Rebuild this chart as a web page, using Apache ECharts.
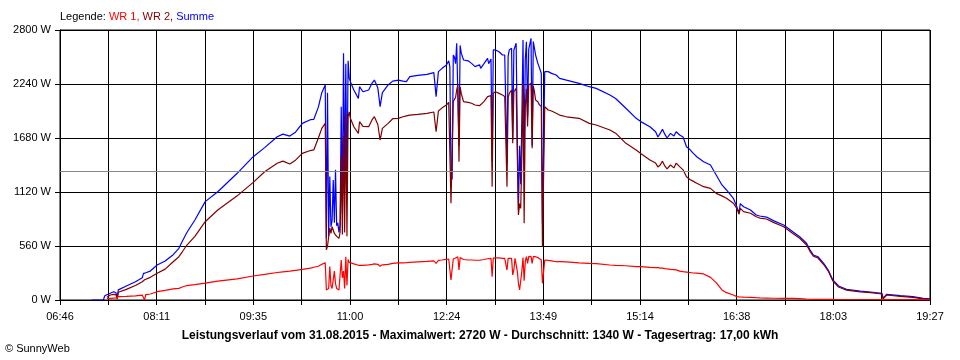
<!DOCTYPE html>
<html><head><meta charset="utf-8">
<script src="https://cdn.jsdelivr.net/npm/echarts@6/dist/echarts.min.js"></script>
<style>html,body{margin:0;padding:0;background:#fff}#c{width:960px;height:360px}</style>
</head><body><div id="c"></div>
<script>
const tickLabels = ['06:46','08:11','09:35','11:00','12:24','13:49','15:14','16:38','18:03','19:27'];
const axisStart = '06:46', axisEnd = '19:27';
const yTicks = [0, 560, 1120, 1680, 2240, 2800];
const average = 1340;

const times = [
'07:14','07:24','07:25','07:27','07:28','07:30','07:33','07:34','07:35','07:36',
'07:37','07:38','07:44','07:52','07:58','07:59','08:00','08:01','08:05','08:11',
'08:18','08:25','08:30','08:33','08:37','08:44','08:53','09:04','09:21','09:35',
'09:45','09:56','10:01','10:07','10:12','10:18','10:25','10:28','10:32','10:35',
'10:38','10:39','10:40','10:41','10:42','10:43','10:44','10:45','10:46','10:47',
'10:48','10:49','10:50','10:51','10:52','10:53','10:54','10:55','10:56','10:57',
'10:58','10:59','11:00','11:03','11:07','11:08','11:11','11:16','11:19','11:21',
'11:24','11:26','11:28','11:33','11:37','11:42','11:46','11:49','11:52','11:59',
'12:07','12:13','12:14','12:15','12:17','12:20','12:24','12:26','12:27','12:28',
'12:29','12:30','12:31','12:32','12:33','12:34','12:35','12:36','12:37','12:39',
'12:40','12:43','12:46','12:49','12:53','12:54','12:57','13:00','13:01','13:03',
'13:04','13:05','13:07','13:10','13:13','13:15','13:16','13:17','13:18','13:19',
'13:21','13:22','13:23','13:24','13:25','13:26','13:27','13:28','13:29','13:30',
'13:31','13:32','13:33','13:34','13:35','13:36','13:37','13:38','13:39','13:40',
'13:41','13:42','13:44','13:45','13:47','13:48','13:50','13:53','13:56','14:00',
'14:03','14:09','14:20','14:29','14:35','14:47','14:52','15:01','15:10','15:14',
'15:22','15:27','15:29','15:31','15:33','15:35','15:37','15:40','15:43','15:45',
'15:48','15:51','15:54','15:57','16:00','16:03','16:09','16:15','16:20','16:25',
'16:29','16:35','16:38','16:40','16:41','16:44','16:50','16:55','16:58','17:04',
'17:10','17:19','17:27','17:33','17:39','17:42','17:45','17:49','17:54','17:58',
'18:02','18:07','18:14','18:26','18:35','18:45','18:46','18:49','19:01','19:12',
'19:21','19:27'];

const wr1 = [
null,null,null,17,17,17,20,22,22,20,
35,35,38,42,50,52,0,55,62,86,
100,115,121,135,150,160,175,195,220,249,
265,285,292,300,308,318,330,340,350,370,
385,104,110,120,346,150,120,140,300,170,
120,110,104,120,415,230,300,120,449,150,
420,390,380,375,360,353,360,365,370,375,
370,350,365,370,380,385,386,387,390,395,
400,405,405,380,410,415,422,425,425,207,
220,425,430,435,440,449,311,440,430,420,
415,415,415,412,412,415,420,428,430,432,
242,435,436,436,432,432,432,311,432,432,
432,260,311,432,432,300,173,104,200,300,
440,200,400,449,380,449,449,453,380,449,
449,449,440,432,415,173,415,410,405,397,
397,395,385,380,378,363,360,355,346,346,
339,335,335,330,330,325,322,318,315,312,
300,294,290,285,280,278,270,235,180,104,
76,52,35,32,32,30,28,24,22,20,
18,17,17,15,10,8,7,7,7,7,
6,5,5,5,5,4,4,4,4,3,
2,1];

const wr2 = [
null,null,null,28,40,52,58,62,55,10,
80,86,110,150,190,207,210,212,235,277,
320,397,449,500,570,660,812,933,1080,1220,
1330,1418,1440,1410,1450,1521,1550,1556,1680,1780,
1832,520,560,570,745,690,760,780,690,700,
660,660,640,700,1486,680,1700,700,1936,660,
1900,1950,1884,1797,1728,1849,1800,1797,1870,1901,
1820,1659,1780,1832,1880,1884,1900,1910,1918,1925,
1936,1950,1970,1745,1960,1990,2022,2050,2040,1003,
1010,2060,2080,2100,2178,2230,1434,2210,2140,2057,
2060,2050,2040,2022,2015,2022,2060,2109,2100,2120,
1175,2143,2160,2143,2126,2110,2091,1175,2100,2143,
2178,1625,2160,2165,2195,1500,881,1000,950,1500,
2247,795,2000,2190,1800,2230,2212,2247,1573,2220,
2160,2074,2057,2030,2005,553,2005,1970,1960,1936,
1918,1900,1884,1832,1815,1763,1730,1625,1556,1520,
1452,1420,1380,1400,1440,1390,1360,1400,1370,1420,
1383,1350,1279,1250,1230,1210,1175,1158,1106,1080,
1055,1003,950,890,950,916,900,864,850,840,
805,760,690,640,570,505,455,435,368,300,
198,135,102,85,76,62,12,52,38,28,
12,8];

const summe = [
0,0,41,55,62,70,86,80,75,20,
105,111,145,190,230,277,280,282,300,363,
405,470,536,610,700,830,1020,1123,1314,1486,
1580,1693,1720,1700,1740,1832,1870,1874,2000,2150,
2230,640,2150,660,1280,760,820,1245,800,1350,
770,800,700,780,2005,900,2558,1200,2450,1100,
2480,2300,2264,2178,2091,2212,2160,2178,2250,2281,
2200,2005,2150,2230,2270,2281,2270,2264,2316,2330,
2340,2358,2370,2109,2368,2400,2437,2480,2420,1331,
1250,2541,2520,2450,2662,2645,1600,2640,2560,2489,
2472,2480,2454,2420,2440,2403,2454,2506,2450,2500,
1434,2593,2593,2575,2541,2541,2530,1418,2530,2593,
2610,1659,2593,2610,2662,1700,933,1600,1200,1900,
2696,1500,2500,2679,1900,2600,2610,2714,1600,2680,
2610,2541,2454,2420,2351,795,2368,2368,2350,2333,
2299,2280,2247,2212,2195,2126,2090,1988,1884,1850,
1797,1745,1690,1728,1770,1720,1680,1728,1700,1745,
1711,1690,1590,1560,1520,1486,1434,1400,1296,1193,
1141,1055,967,900,1000,967,933,881,871,860,
823,778,708,657,588,520,467,449,380,311,
207,145,111,93,83,69,17,59,45,35,
17,12];

function toMin(s){ const p = s.split(':'); return (+p[0])*60 + (+p[1]); }
const xMin = toMin(axisStart), xMax = toMin(axisEnd);
const step = (xMax - xMin) / 18;
const pairs = arr => times.map((t, i) => [toMin(t), arr[i]]);
const font = 'Liberation Sans';
const rs = c => ({ color: c, fontSize: 11, fontFamily: font, fontWeight: 'normal' });

const chart = echarts.init(document.getElementById('c'));
chart.setOption({
  animation: false,
  backgroundColor: '#fff',
  textStyle: { fontFamily: font },
  title: [
    { left: 60, top: 11, padding: 0,
      text: '{k|Legende: }{a|WR 1, }{b|WR 2, }{c|Summe}',
      textStyle: { fontWeight: 'normal', fontSize: 11, rich: { k: rs('#000'), a: rs('#ff0000'), b: rs('#800000'), c: rs('#0000ff') } } },
    { left: 'center', top: 330, padding: 0,
      text: 'Leistungsverlauf vom 31.08.2015 - Maximalwert: 2720 W - Durchschnitt: 1340 W - Tagesertrag: 17,00 kWh',
      textStyle: { fontSize: 12, fontWeight: 'bold', color: '#000', fontFamily: font } },
    { left: 5, top: 343, padding: 0, text: '© SunnyWeb',
      textStyle: { fontSize: 11, fontWeight: 'normal', color: '#000', fontFamily: font } }
  ],
  grid: { left: 60, right: 30, top: 30, bottom: 60, show: true, borderColor: '#000', borderWidth: 1, backgroundColor: '#fff' },
  xAxis: {
    type: 'value', min: xMin, max: xMax, interval: step,
    axisLine: { lineStyle: { color: '#000', width: 1 } },
    axisTick: { length: 5, lineStyle: { color: '#000' } },
    splitLine: { show: true, lineStyle: { color: '#000', width: 1 } },
    axisLabel: { color: '#000', fontSize: 11, fontFamily: font, margin: 11, showMinLabel: true, showMaxLabel: true, hideOverlap: false,
      formatter: v => { const k = Math.round((v - xMin) / step); return k % 2 === 0 ? (tickLabels[k / 2] || '') : ''; } }
  },
  yAxis: {
    type: 'value', min: yTicks[0], max: yTicks[yTicks.length - 1], interval: yTicks[1] - yTicks[0],
    axisLine: { show: true, lineStyle: { color: '#000', width: 1 } },
    axisTick: { show: true, length: 5, lineStyle: { color: '#000' } },
    splitLine: { show: true, lineStyle: { color: '#000', width: 1 } },
    axisLabel: { color: '#000', fontSize: 11, fontFamily: font, margin: 9, formatter: v => v + ' W' }
  },
  series: [
    { name: 'Summe', type: 'line', data: pairs(summe), symbol: 'none', lineStyle: { color: '#0000ff', width: 1.2 }, itemStyle: { color: '#0000ff' },
      markLine: { silent: true, symbol: 'none', label: { show: false }, lineStyle: { color: '#888888', width: 1, type: 'solid' }, data: [{ yAxis: average }] } },
    { name: 'WR 2', type: 'line', data: pairs(wr2), symbol: 'none', lineStyle: { color: '#800000', width: 1.2 }, itemStyle: { color: '#800000' } },
    { name: 'WR 1', type: 'line', data: pairs(wr1), symbol: 'none', lineStyle: { color: '#ff0000', width: 1.2 }, itemStyle: { color: '#ff0000' } }
  ]
});
</script></body></html>
